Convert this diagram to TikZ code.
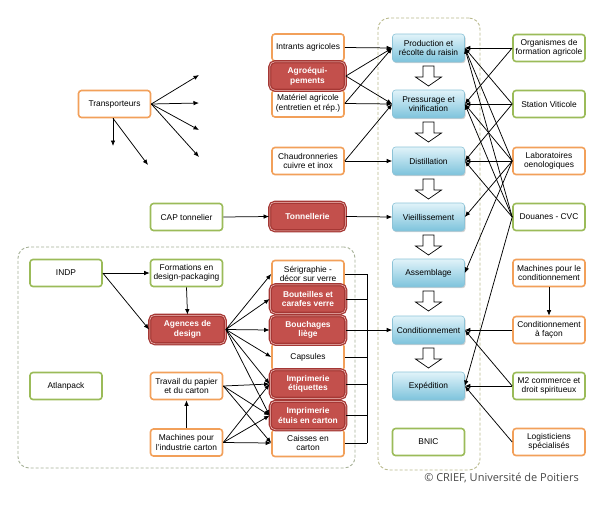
\documentclass[tikz,border=0pt]{standalone}
\usepackage{fontspec}
\setmainfont{Liberation Sans}
\newfontfamily\copyfont{Open Sans}
\usetikzlibrary{arrows.meta,shadows}
\definecolor{orangec}{RGB}{242,160,90}
\definecolor{greenc}{RGB}{155,187,89}
\definecolor{redc}{RGB}{195,80,76}
\definecolor{reddark}{RGB}{165,55,52}
\definecolor{redlight}{RGB}{245,200,195}
\definecolor{blueA}{RGB}{225,243,249}
\definecolor{blueB}{RGB}{125,195,220}
\definecolor{blueD}{RGB}{140,195,215}
\definecolor{dashc}{RGB}{185,185,140}
\definecolor{dashg}{RGB}{165,175,150}
\begin{document}
\begin{tikzpicture}[x=1pt,y=-1pt,
 box/.style={rounded corners=3pt, minimum width=72pt, minimum height=27pt, align=center, inner sep=1pt, font=\fontsize{8.4}{9.6}\selectfont},
 obox/.style={box, draw=orangec, line width=1.6pt, fill=white},
 gbox/.style={box, draw=greenc, line width=1.6pt, fill=white},
 rbox/.style={box, rounded corners=5pt, fill=redc, draw=reddark, double=redlight, double distance=0.5pt, line width=1.3pt, text=white, font=\fontsize{8.4}{9.6}\selectfont\bfseries, minimum width=75.5pt, minimum height=28.5pt},
 bbox/.style={box, top color=blueA, bottom color=blueB, draw=blueD, line width=0.6pt, minimum height=28pt, drop shadow={opacity=0.35, shadow xshift=1pt, shadow yshift=-1.2pt}},
 dashbox/.style={draw, dashed, line width=0.9pt, rounded corners=11pt, dash pattern=on 3pt off 2pt, inner sep=0pt},
 arr/.style={-{Latex[length=5.5pt,width=4.5pt]}, line width=0.75pt},
 ln/.style={line width=0.75pt},
 harrow/.pic={\draw[line width=0.7pt, fill=white] (-5.5,0) -- (-5.5,11) -- (-13,11) -- (0,20) -- (13,11) -- (5.5,11) -- (5.5,0) -- cycle;}
]
\useasboundingbox (0,0) rectangle (599,507);
% frames
\node[dashbox, draw=dashc, minimum width=102pt, minimum height=452pt] (frameC) at (429,244) {};
\node[dashbox, draw=dashg, minimum width=337pt, minimum height=221pt] (frameL) at (186.5,357.5) {};

% centre column
\node[bbox] (prod) at (428.5,48) {Production et\\récolte du raisin};
\node[bbox] (press) at (428.5,104) {Pressurage et\\vinification};
\node[bbox] (dist) at (428.5,161) {Distillation};
\node[bbox] (vieil) at (428.5,217) {Vieillissement};
\node[bbox] (assem) at (428.5,273) {Assemblage};
\node[bbox] (cond) at (428.5,330) {Conditionnement};
\node[bbox] (exped) at (428.5,386) {Expédition};
\node[gbox] (bnic) at (428.5,442) {BNIC};
\foreach \yy in {66,122,179,235,291,348} {\pic at (428.5,\yy) {harrow};}

% right column
\node[gbox] (orga) at (549,48) {Organismes de\\formation agricole};
\node[gbox] (stat) at (549,104) {Station Viticole};
\node[obox] (labo) at (549,161) {Laboratoires\\oenologiques};
\node[gbox] (doua) at (549,217) {Douanes - CVC};
\node[obox] (machc) at (549,273) {Machines pour le\\conditionnement};
\node[obox] (facon) at (549,330) {Conditionnement\\à façon};
\node[gbox] (mdeux) at (549,386) {M2 commerce et\\droit spiritueux};
\node[obox] (logi) at (549,442) {Logisticiens\\spécialisés};

% left upper column
\node[obox] (intr) at (308,47.5) {Intrants agricoles};
\node[obox] (mate) at (308,103.5) {Matériel agricole\\(entretien et rép.)};
\node[rbox] (agro) at (307.5,76) {Agroéqui-\\pements};
\node[obox] (chau) at (308,161) {Chaudronneries\\cuivre et inox};
\node[rbox] (tonn) at (307.5,216.5) {Tonnellerie};
\node[gbox] (cap) at (186.5,217) {CAP tonnelier};
\node[obox] (trans) at (114.5,104) {Transporteurs};

% bottom-left block
\node[gbox] (indp) at (66,273) {INDP};
\node[gbox] (atlan) at (66,386) {Atlanpack};
\node[gbox] (form) at (186.5,273) {Formations en\\design-packaging};
\node[rbox] (agen) at (187.5,329.5) {Agences de\\design};
\node[obox] (trav) at (186.5,386) {Travail du papier\\et du carton};
\node[obox] (mcart) at (186.5,442.5) {Machines pour\\l'industrie carton};

% product column
\node[obox] (seri) at (308,274) {Sérigraphie -\\décor sur verre};
\node[obox] (caps) at (308,357) {Capsules};
\node[obox] (cais) at (308,443) {Caisses en\\carton};
\node[rbox] (bout) at (308,299) {Bouteilles et\\carafes verre};
\node[rbox] (bouch) at (308,330) {Bouchages\\liège};
\node[rbox] (etiq) at (308,384) {Imprimerie\\étiquettes};
\node[rbox] (etui) at (308,415.5) {Imprimerie\\étuis en carton};

% copyright
\node[font=\copyfont\fontsize{11}{13}\selectfont, text=black!72, anchor=east, inner sep=0pt] (copy) at (579,478) {© CRIEF, Université de Poitiers};

% Transporteurs free arrows
\coordinate (t1) at (199,75);
\coordinate (t2) at (199,103);
\coordinate (t3) at (199,130);
\coordinate (t4) at (199,157);
\coordinate (t5) at (113,146);
\coordinate (t6) at (148,165);
\foreach \t in {t1,t2,t3,t4} {\draw[arr] (trans.east) -- (\t);}
\draw[arr] (trans.south -| t5) -- (t5);
\draw[arr] (trans.south -| t5) -- (t6);

% left -> centre
\draw[arr] (intr.east) -- (prod.west);
\draw[arr] (agro.east) -- (prod.west);
\draw[arr] (agro.east) -- (press.west);
\draw[arr] (mate.east) -- (prod.west);
\draw[arr] (mate.east) -- (press.west);
\draw[arr] (chau.east) -- (press.west);
\draw[arr] (chau.east) -- (dist.west);
\draw[arr] (tonn.east) -- (vieil.west);
\draw[arr] (cap.east) -- (tonn.west);

% right -> centre
\draw[arr] (orga.west) -- (prod.east);
\draw[arr] (orga.west) -- (press.east);
\draw[arr] (stat.west) -- (prod.east);
\draw[arr] (stat.west) -- (press.east);
\draw[arr] (stat.west) -- (dist.east);
\draw[arr] (labo.west) -- (prod.east);
\draw[arr] (labo.west) -- (press.east);
\draw[arr] (labo.west) -- (dist.east);
\draw[arr] (labo.west) -- (vieil.east);
\draw[arr] (labo.west) -- (assem.east);
\draw[arr] (doua.west) -- (prod.east);
\draw[arr] (doua.west) -- (press.east);
\draw[arr] (doua.west) -- (dist.east);
\draw[arr] (doua.west) -- (exped.east);
\draw[arr] (machc.south) -- (facon.north);
\draw[arr] (facon.west) -- (cond.east);
\draw[arr] (mdeux.west) -- (cond.east);
\draw[arr] (mdeux.west) -- (exped.east);
\draw[arr] (logi.west) -- (exped.east);

% bottom-left block arrows
\draw[arr] (indp.east) -- (form.west);
\draw[arr] (indp.east) -- (agen.west);
\draw[arr] (form.south) -- (agen.north);
\draw[arr] (mcart.north) -- (trav.south);
\foreach \p in {seri,bout,bouch,caps,etiq,etui} {\draw[arr] (agen.east) -- (\p.west);}
\foreach \p in {etiq,etui,cais} {\draw[arr] (trav.east) -- (\p.west); \draw[arr] (mcart.east) -- (\p.west);}

% bus to Conditionnement
\coordinate (busT) at (367,274);
\foreach \p in {seri,bout,bouch,caps,etiq,etui,cais} {\draw[ln] (\p.east) -- (\p.east -| busT);}
\draw[ln] (busT |- seri.east) -- (busT |- cais.east);
\draw[arr] (busT |- cond.west) -- (cond.west);
\end{tikzpicture}
\end{document}
